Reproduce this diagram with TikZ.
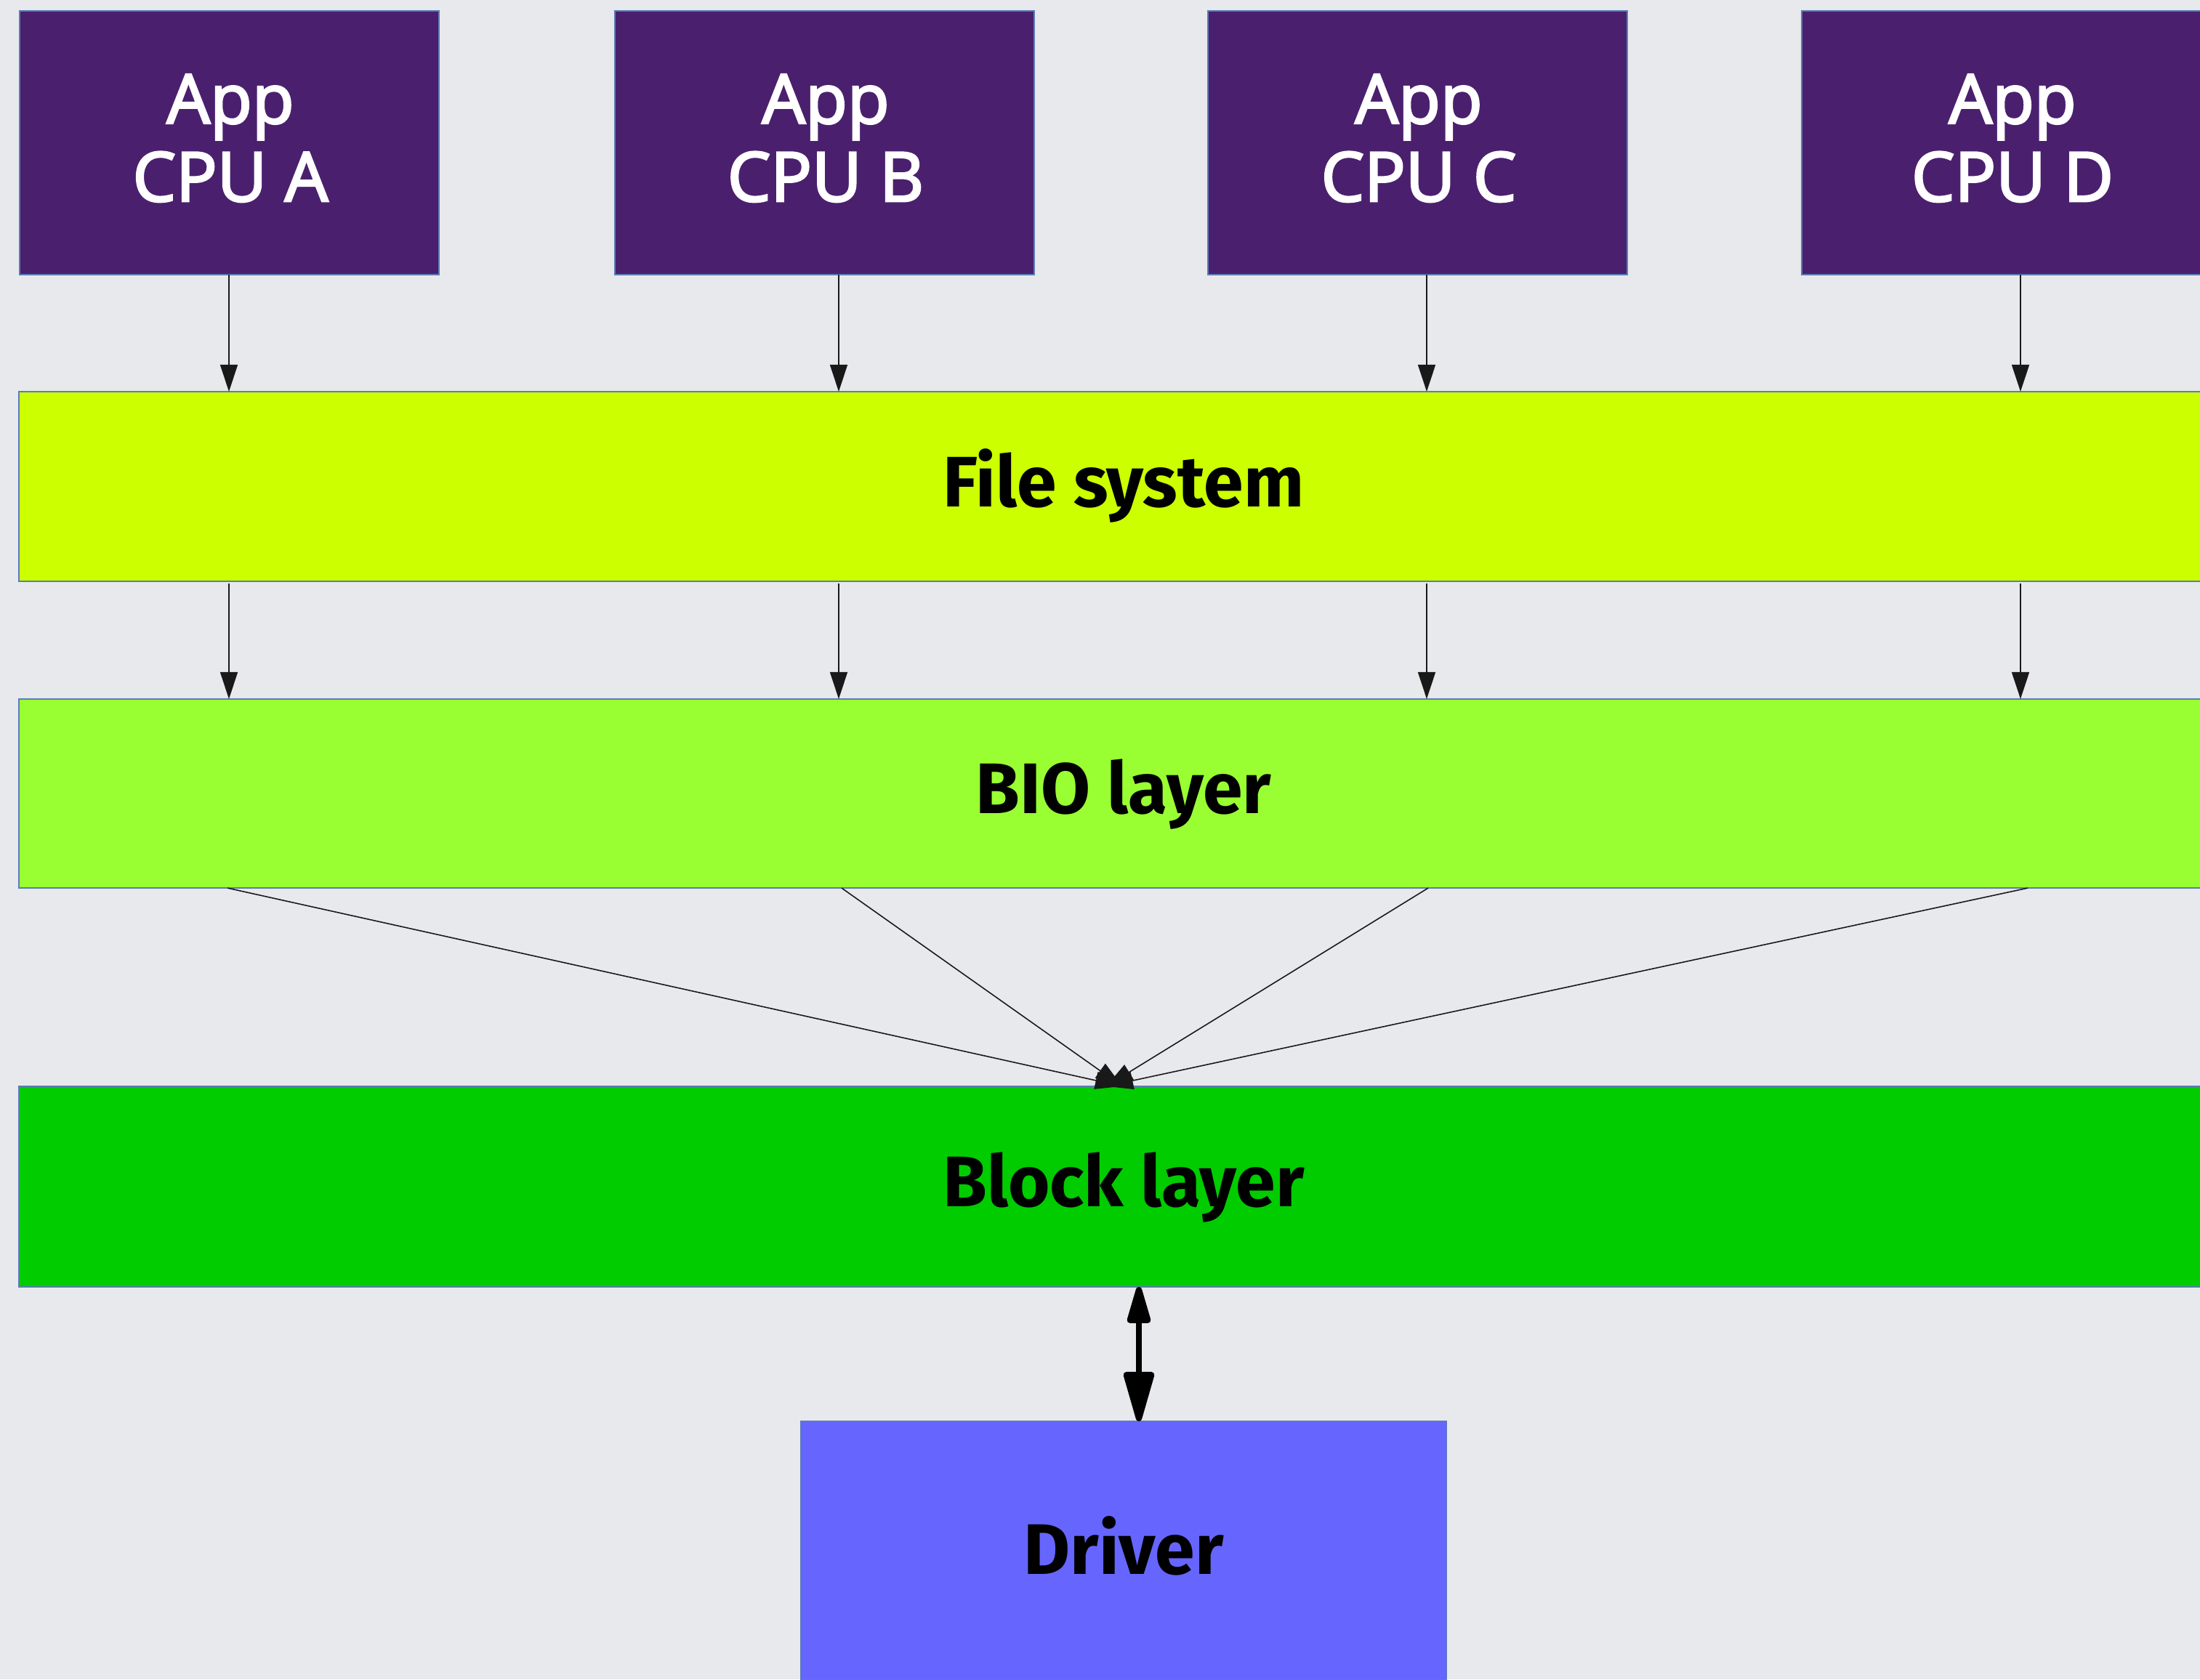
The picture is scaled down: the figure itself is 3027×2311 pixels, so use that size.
\documentclass[tikz,border=0pt]{standalone}
\usepackage{fontspec}
\setmainfont{Fira Sans}
\newfontfamily\appfont{Open Sans}[FakeBold=3]
\usetikzlibrary{arrows.meta}
\definecolor{canvas}{HTML}{E8E9ED}
\definecolor{appviolet}{HTML}{4A206E}
\definecolor{fsyellow}{HTML}{CCFF00}
\definecolor{biogreen}{HTML}{99FF33}
\definecolor{blkgreen}{HTML}{00CC00}
\definecolor{drvblue}{HTML}{6666FF}
\definecolor{edgeblue}{HTML}{5A7DB5}
\begin{document}
\begin{tikzpicture}[x=0.01cm,y=-0.01cm,
  box/.style={rectangle, draw=edgeblue, line width=0.4pt, inner sep=0pt, outer sep=0pt},
  appbox/.style={box, fill=appviolet, minimum width=5.77cm, minimum height=3.63cm},
  bar/.style={box, minimum width=30.38cm},
  apptxt/.style={text=white, align=center, inner sep=0pt, anchor=base,
    font=\appfont\fontsize{26.8}{30.5}\selectfont},
  bartxt/.style={text=black, inner sep=0pt, anchor=base,
    font=\bfseries\fontsize{28}{32}\selectfont},
  flow/.style={draw=black!90, line width=0.45pt,
    -{Triangle[length=0.37cm,width=0.24cm]}},
  duplex/.style={draw=black, line width=2.4pt,
    {Triangle[round,length=0.62cm,width=0.33cm]}-{Triangle[round,length=0.8cm,width=0.43cm]}}
]
\useasboundingbox (0,0) rectangle (3027,2311);
\clip (0,0) rectangle (3027,2311);
\fill[canvas] (0,0) rectangle (3027,2311);

% application boxes
\node[appbox] (A) at (315.5,196.5) {};
\node[appbox] (B) at (1134.5,196.5) {};
\node[appbox] (C) at (1950.5,196.5) {};
\node[appbox] (D) at (2767.5,196.5) {};
% two-line labels, anchored on the baseline of the second line
\node[apptxt] (At) at (317,277) {App\\CPU A};
\node[apptxt] (Bt) at (1136,277) {App\\CPU B};
\node[apptxt] (Ct) at (1952,277) {App\\CPU C};
\node[apptxt] (Dt) at (2769,277) {App\\CPU D};

% layers
\node[bar, fill=fsyellow, minimum height=2.61cm] (FS) at (1546,669.5) {};
\node[bar, fill=biogreen, minimum height=2.60cm] (BIO) at (1546,1092) {};
\node[bar, fill=blkgreen, minimum height=2.76cm] (BLK) at (1546,1633) {};
\node[box, fill=drvblue, minimum width=8.88cm, minimum height=3.56cm] (DRV) at (1546,2134) {};
\node[bartxt] (FSt) at (1546,697) {File system};
\node[bartxt] (BIOt) at (1546,1119.5) {BIO layer};
\node[bartxt] (BLKt) at (1546,1660.5) {Block layer};
\node[bartxt] (DRVt) at (1546,2166) {Driver};

% edge columns
\coordinate (k1) at (315,0);
\coordinate (k2) at (1154,0);
\coordinate (k3) at (1963,0);
\coordinate (k4) at (2780,0);
\coordinate (s1) at (313,0);
\coordinate (s2) at (1158,0);
\coordinate (s3) at (1965,0);
\coordinate (s4) at (2790,0);
\coordinate (e1) at (1544,0);
\coordinate (e2) at (1522,0);
\coordinate (dx) at (1567,0);

% apps to file system
\foreach \k/\n in {k1/A,k2/B,k3/C,k4/D}
  \draw[flow] (\k |- \n.south) -- (\k |- FS.north);
% file system to BIO layer
\foreach \k in {k1,k2,k3,k4}
  \draw[flow] ([yshift=-0.03cm]\k |- FS.south) -- (\k |- BIO.north);
% BIO layer to block layer
\draw[flow] (s1 |- BIO.south) -- (e1 |- BLK.north);
\draw[flow] (s2 |- BIO.south) -- (e1 |- BLK.north);
\draw[flow] (s3 |- BIO.south) -- (e2 |- BLK.north);
\draw[flow] (s4 |- BIO.south) -- (e2 |- BLK.north);
% block layer <-> driver
\draw[duplex] (dx |- BLK.south) -- (dx |- DRV.north);
\end{tikzpicture}
\end{document}
